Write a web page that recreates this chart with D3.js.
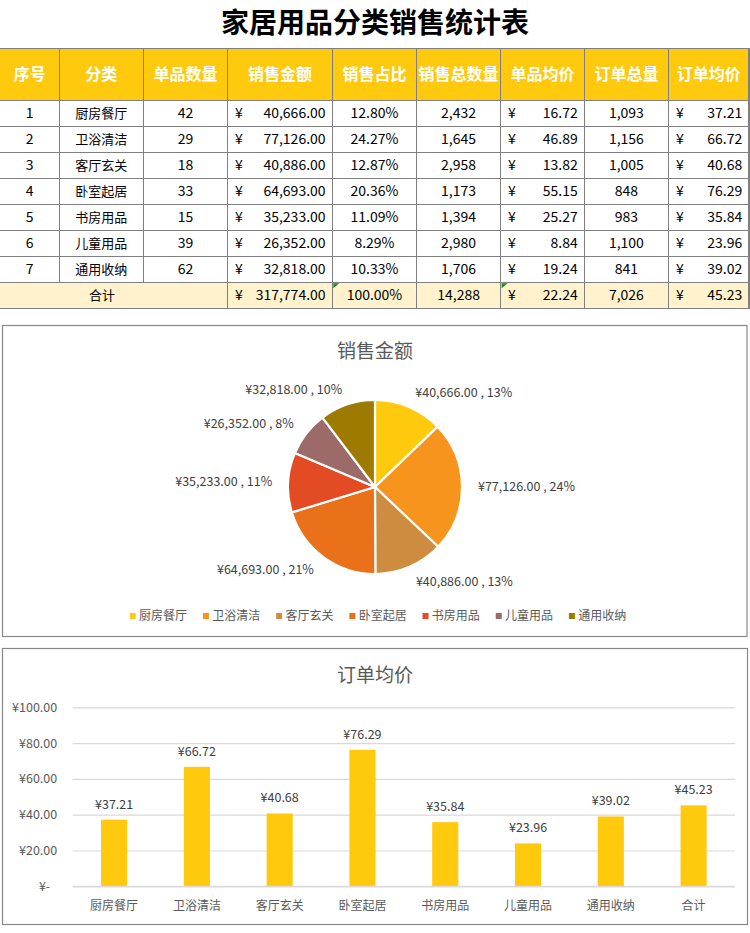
<!DOCTYPE html>
<html><head><meta charset="utf-8">
<script src="https://cdn.jsdelivr.net/npm/d3@7"></script>
<style>
body{margin:0;background:#fff}
svg{display:block}
text{font-family:"Noto Sans CJK SC","Noto Sans",sans-serif}
</style>
</head><body>
<svg id="c" width="750" height="933"></svg>
<script>
// ---------- data ----------
const title = "家居用品分类销售统计表";
const headers = ["序号","分类","单品数量","销售金额","销售占比","销售总数量","单品均价","订单总量","订单均价"];
const ids = [1,2,3,4,5,6,7];
const categories = ["厨房餐厅","卫浴清洁","客厅玄关","卧室起居","书房用品","儿童用品","通用收纳"];
const itemCounts = [42,29,18,33,15,39,62];
const salesAmount = [40666,77126,40886,64693,35233,26352,32818];
const salesShare = [12.80,24.27,12.87,20.36,11.09,8.29,10.33];
const salesQty = [2432,1645,2958,1173,1394,2980,1706];
const unitPrice = [16.72,46.89,13.82,55.15,25.27,8.84,19.24];
const orderCount = [1093,1156,1005,848,983,1100,841];
const orderAvg = [37.21,66.72,40.68,76.29,35.84,23.96,39.02];
const totalLabel = "合计";
const totals = {amount:317774, share:100.00, qty:14288, unitPrice:22.24, orders:7026, orderAvg:45.23};
const pieTitle = "销售金额";
const piePctLabels = [13,24,13,21,11,8,10];
const pieColors = ["#FFC90E","#F7941E","#CD8C40","#EA711A","#E34B24","#9C6A69","#9D7B00"];
const barTitle = "订单均价";
const barCategories = categories.concat([totalLabel]);
const barValues = orderAvg.concat([totals.orderAvg]);
const yTicks = [0,20,40,60,80,100];

// ---------- helpers ----------
const svg = d3.select("#c");
const fmt0 = d3.format(",d");
const fmt2 = d3.format(",.2f");
const yellow = "#FFC90E";
const gridCol = "#808080";

// ---------- title ----------
svg.append("text").attr("x",375).attr("y",23).attr("dy","0.35em")
  .attr("text-anchor","middle").attr("font-size",28).attr("font-weight",700)
  .attr("fill","#000").text(title);

// ---------- table ----------
const colX = [0,59.3,143.3,227.6,332.3,416.6,500.6,584.4,668.4,749];
const headTop = 48.3, headBot = 100.3, rowH = 26;
const nRows = ids.length;
const tbl = svg.append("g");

tbl.append("rect").attr("x",0).attr("y",headTop).attr("width",749).attr("height",headBot-headTop).attr("fill",yellow);
const totTop = headBot + nRows*rowH;
tbl.append("rect").attr("x",0).attr("y",totTop).attr("width",749).attr("height",rowH).attr("fill","#FFF2CC");

headers.forEach((h,i)=>{
  tbl.append("text").attr("x",(colX[i]+colX[i+1])/2).attr("y",(headTop+headBot)/2).attr("dy","0.35em")
    .attr("text-anchor","middle").attr("font-size",16).attr("font-weight",700).attr("fill","#fff").text(h);
});

function cellCenter(row,col,txt,size){
  tbl.append("text").attr("x",(colX[col]+colX[col+1])/2).attr("y",headBot+row*rowH+rowH/2).attr("dy","0.35em")
    .attr("text-anchor","middle").attr("font-size",size||14).attr("fill","#000").text(txt);
}
function cellAcct(row,col,txt){
  const y = headBot+row*rowH+rowH/2;
  tbl.append("text").attr("x",colX[col]+7.5).attr("y",y).attr("dy","0.35em")
    .attr("font-size",14).attr("fill","#000").text("¥");
  tbl.append("text").attr("x",colX[col+1]-6.7).attr("y",y).attr("dy","0.35em")
    .attr("text-anchor","end").attr("font-size",14).attr("fill","#000").text(txt);
}
ids.forEach((id,r)=>{
  cellCenter(r,0,id);
  cellCenter(r,1,categories[r],13);
  cellCenter(r,2,itemCounts[r]);
  cellAcct(r,3,fmt2(salesAmount[r]));
  cellCenter(r,4,salesShare[r].toFixed(2)+"%");
  cellCenter(r,5,fmt0(salesQty[r]));
  cellAcct(r,6,fmt2(unitPrice[r]));
  cellCenter(r,7,fmt0(orderCount[r]));
  cellAcct(r,8,fmt2(orderAvg[r]));
});
tbl.append("text").attr("x",102).attr("y",totTop+rowH/2).attr("dy","0.35em")
  .attr("text-anchor","middle").attr("font-size",13).attr("fill","#000").text(totalLabel);
cellAcct(nRows,3,fmt2(totals.amount));
cellCenter(nRows,4,totals.share.toFixed(2)+"%");
cellCenter(nRows,5,fmt0(totals.qty));
cellAcct(nRows,6,fmt2(totals.unitPrice));
cellCenter(nRows,7,fmt0(totals.orders));
cellAcct(nRows,8,fmt2(totals.orderAvg));

[4,6].forEach(c=>{
  const x0 = colX[c]+1, y0 = totTop+1;
  tbl.append("path").attr("d",`M${x0},${y0}h6l-6,5z`).attr("fill","#1E8A1E");
});

const g = tbl.append("g").attr("stroke",gridCol).attr("stroke-width",1.3).attr("shape-rendering","crispEdges");
const hLines = [headTop];
for(let i=0;i<=nRows+1;i++) hLines.push(headBot+i*rowH);
hLines.forEach(y=>g.append("line").attr("x1",0).attr("x2",750).attr("y1",y).attr("y2",y));
colX.slice(1).forEach((x,i)=>{
  const idx=i+1;
  const bottom = (idx===1||idx===2) ? totTop : totTop+rowH;
  g.append("line").attr("x1",x).attr("x2",x).attr("y1",headTop).attr("y2",bottom);
});

// ---------- pie panel ----------
svg.append("rect").attr("x",2.5).attr("y",325.5).attr("width",744.5).attr("height",311)
  .attr("fill","#fff").attr("stroke","#888").attr("stroke-width",1.2);
svg.append("text").attr("x",375).attr("y",351).attr("dy","0.35em").attr("text-anchor","middle")
  .attr("font-size",19).attr("fill","#595959").text(pieTitle);

const cx = 375, cy = 487, R = 87, RL = 103;
const pie = d3.pie().sort(null).value(d=>d);
const arcs = pie(salesAmount);
const arc = d3.arc().innerRadius(0).outerRadius(R);
const pg = svg.append("g").attr("transform",`translate(${cx},${cy})`);
pg.selectAll("path").data(arcs).join("path").attr("d",arc)
  .attr("fill",(d,i)=>pieColors[i]).attr("stroke","#fff").attr("stroke-width",2.2).attr("stroke-linejoin","round");
pg.selectAll("text").data(arcs).join("text")
  .attr("x",d=>{const a=(d.startAngle+d.endAngle)/2; return RL*Math.sin(a);})
  .attr("y",d=>{const a=(d.startAngle+d.endAngle)/2; return -RL*Math.cos(a);})
  .attr("dy","0.35em")
  .attr("text-anchor",d=>{const a=(d.startAngle+d.endAngle)/2; return Math.sin(a)>=0?"start":"end";})
  .attr("font-size",12.5).attr("fill","#404040")
  .text((d,i)=>"¥"+fmt2(salesAmount[i])+" , "+piePctLabels[i]+"%");

const legStep = 73.2, legText = 9.3;
const legTotal = legStep*(categories.length-1) + legText + 48;
const legX0 = 378 - legTotal/2;
const lg = svg.append("g");
categories.forEach((c,i)=>{
  const x = legX0 + i*legStep;
  lg.append("rect").attr("x",x).attr("y",613).attr("width",6).attr("height",6).attr("fill",pieColors[i]);
  lg.append("text").attr("x",x+legText).attr("y",616).attr("dy","0.35em")
    .attr("font-size",12).attr("fill","#595959").text(c);
});

// ---------- bar panel ----------
svg.append("rect").attr("x",2.5).attr("y",648.5).attr("width",745).attr("height",276)
  .attr("fill","#fff").attr("stroke","#888").attr("stroke-width",1.2);
svg.append("text").attr("x",375).attr("y",675).attr("dy","0.35em").attr("text-anchor","middle")
  .attr("font-size",19).attr("fill","#595959").text(barTitle);

const pl = 72.7, pr = 735, pt = 707.3, pb = 886.3;
const x = d3.scaleBand().domain(barCategories).range([pl,pr]).paddingInner(0).paddingOuter(0);
const y = d3.scaleLinear().domain([0,100]).range([pb,pt]);

const yAxis = svg.append("g").attr("transform",`translate(${pl},0)`)
  .call(d3.axisLeft(y).tickValues(yTicks).tickSize(-(pr-pl)).tickPadding(15.5)
    .tickFormat(v=> v===0 ? "¥-" : "¥"+d3.format(".2f")(v)));
yAxis.select(".domain").remove();
yAxis.selectAll(".tick line").attr("stroke","#D9D9D9").attr("stroke-width",1.2);
yAxis.selectAll(".tick text").attr("font-size",12.5).attr("fill","#595959")
  .attr("font-family",'"Noto Sans CJK SC","Noto Sans",sans-serif')
  .attr("dx",v=> v===0 ? -7 : 0);

const bw = x.bandwidth()*0.315;
svg.append("g").selectAll("rect").data(barValues).join("rect")
  .attr("x",(d,i)=>x(barCategories[i])+(x.bandwidth()-bw)/2)
  .attr("y",d=>y(d)).attr("width",bw).attr("height",d=>y(0)-y(d)).attr("fill",yellow);
svg.append("line").attr("x1",pl).attr("x2",pr).attr("y1",y(0)).attr("y2",y(0)).attr("stroke","#D9D9D9").attr("stroke-width",1.2);

svg.append("g").selectAll("text").data(barValues).join("text")
  .attr("x",(d,i)=>x(barCategories[i])+x.bandwidth()/2)
  .attr("y",d=>y(d)-15.5).attr("dy","0.35em").attr("text-anchor","middle")
  .attr("font-size",12.5).attr("fill","#404040").text(d=>"¥"+fmt2(d));

const xAxis = svg.append("g").attr("transform",`translate(0,${pb})`)
  .call(d3.axisBottom(x).tickSize(0).tickPadding(0));
xAxis.select(".domain").remove();
xAxis.selectAll(".tick text").attr("y",19.4).attr("dy","0.35em").attr("font-size",12).attr("fill","#595959")
  .attr("font-family",'"Noto Sans CJK SC","Noto Sans",sans-serif');
</script>
</body></html>
